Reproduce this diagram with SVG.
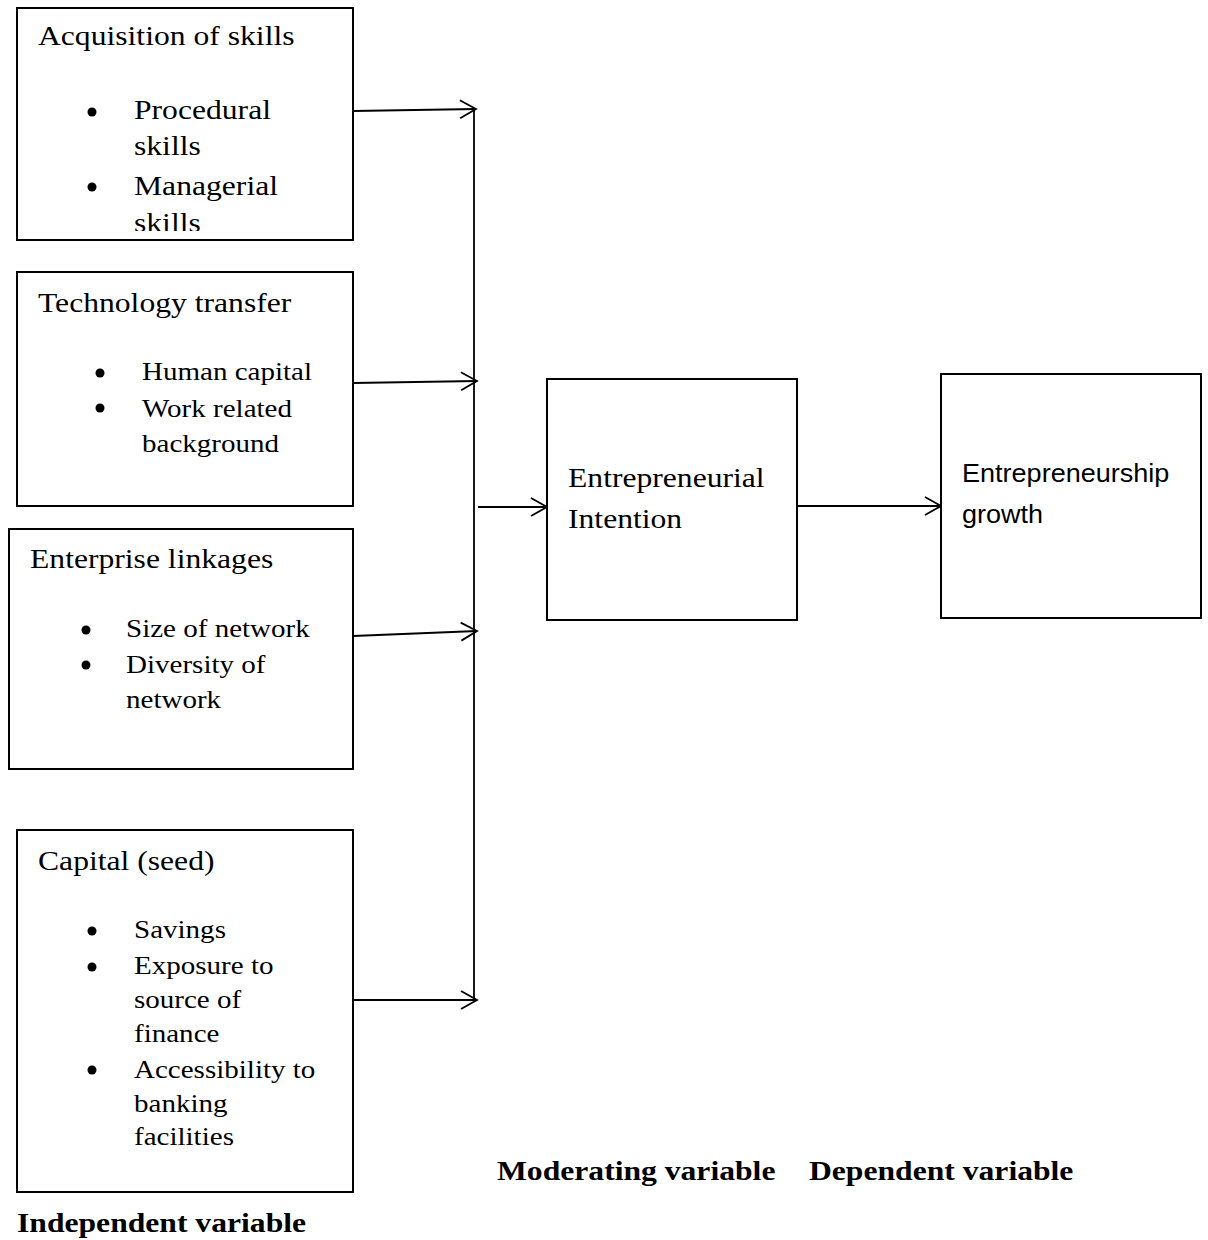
<svg xmlns="http://www.w3.org/2000/svg" width="1208" height="1240" viewBox="0 0 1208 1240">
<style>
.box{fill:#fff;stroke:#000;stroke-width:2}
.t{font-family:"Liberation Serif","Times New Roman",serif;font-size:28px;fill:#000}
.s{font-family:"Liberation Serif","Times New Roman",serif;font-size:25.7px;fill:#000}
.b{font-family:"Liberation Serif","Times New Roman",serif;font-size:28px;font-weight:bold;fill:#000}
.sans{font-family:"Liberation Sans",Arial,sans-serif;font-size:26px;fill:#000}
.ln{fill:none;stroke:#000;stroke-width:1.8}
.dot{fill:#000}
</style>
<defs>
<marker id="ah" markerUnits="userSpaceOnUse" markerWidth="20" markerHeight="22" refX="17" refY="10" orient="auto" viewBox="0 0 20 22">
<path d="M1,1 L17,10 L1,19" fill="none" stroke="#000" stroke-width="1.8"/>
</marker>
<clipPath id="c1"><rect x="17" y="8" width="336" height="223"/></clipPath>
</defs>
<rect width="1208" height="1240" fill="#fff"/>
<g id="connectors">
<line class="ln" x1="474" y1="108" x2="474" y2="1001"/>
<line class="ln" x1="353" y1="111" x2="476" y2="109" marker-end="url(#ah)"/>
<line class="ln" x1="353" y1="383" x2="477" y2="381" marker-end="url(#ah)"/>
<line class="ln" x1="353" y1="636" x2="477" y2="631" marker-end="url(#ah)"/>
<line class="ln" x1="353" y1="1000" x2="477" y2="1000" marker-end="url(#ah)"/>
<line class="ln" x1="478" y1="507" x2="547" y2="507" marker-end="url(#ah)"/>
<line class="ln" x1="797" y1="506" x2="941" y2="506" marker-end="url(#ah)"/>
</g>
<g id="acquisition">
<rect class="box" x="17" y="8" width="336" height="232"/>
<text class="t" transform="translate(38,45) scale(1.13,1)">Acquisition of skills</text>
<circle class="dot" cx="92" cy="112" r="4.5"/>
<circle class="dot" cx="92" cy="187" r="4.5"/>
<text class="t" transform="translate(134,119) scale(1.13,1)">Procedural</text>
<text class="t" transform="translate(134,155) scale(1.13,1)">skills</text>
<text class="t" transform="translate(134,195) scale(1.13,1)">Managerial</text>
<g clip-path="url(#c1)"><text class="t" transform="translate(134,232) scale(1.13,1)">skills</text></g>
</g>
<g id="technology">
<rect class="box" x="17" y="272" width="336" height="234"/>
<text class="t" transform="translate(38,312) scale(1.13,1)">Technology transfer</text>
<circle class="dot" cx="100" cy="373" r="4.5"/>
<circle class="dot" cx="100" cy="408" r="4.5"/>
<text class="s" transform="translate(142,380) scale(1.13,1)">Human capital</text>
<text class="s" transform="translate(142,417) scale(1.13,1)">Work related</text>
<text class="s" transform="translate(142,452) scale(1.13,1)">background</text>
</g>
<g id="enterprise">
<rect class="box" x="9" y="529" width="344" height="240"/>
<text class="t" transform="translate(30,568) scale(1.13,1)">Enterprise linkages</text>
<circle class="dot" cx="86" cy="630" r="4.5"/>
<circle class="dot" cx="86" cy="665" r="4.5"/>
<text class="s" transform="translate(126,637) scale(1.13,1)">Size of network</text>
<text class="s" transform="translate(126,673) scale(1.13,1)">Diversity of</text>
<text class="s" transform="translate(126,708) scale(1.13,1)">network</text>
</g>
<g id="capital">
<rect class="box" x="17" y="830" width="336" height="362"/>
<text class="t" transform="translate(38,870) scale(1.13,1)">Capital (seed)</text>
<circle class="dot" cx="92" cy="931" r="4.5"/>
<circle class="dot" cx="92" cy="967" r="4.5"/>
<circle class="dot" cx="92" cy="1070" r="4.5"/>
<text class="s" transform="translate(134,938) scale(1.13,1)">Savings</text>
<text class="s" transform="translate(134,974) scale(1.13,1)">Exposure to</text>
<text class="s" transform="translate(134,1008) scale(1.13,1)">source of</text>
<text class="s" transform="translate(134,1042) scale(1.13,1)">finance</text>
<text class="s" transform="translate(134,1078) scale(1.13,1)">Accessibility to</text>
<text class="s" transform="translate(134,1112) scale(1.13,1)">banking</text>
<text class="s" transform="translate(134,1145) scale(1.13,1)">facilities</text>
</g>
<g id="intention">
<rect class="box" x="547" y="379" width="250" height="241"/>
<text class="t" transform="translate(568,487) scale(1.13,1)">Entrepreneurial</text>
<text class="t" transform="translate(568,528) scale(1.13,1)">Intention</text>
</g>
<g id="growth">
<rect class="box" x="941" y="374" width="260" height="244"/>
<text class="sans" transform="translate(962,482) scale(1.04,1)">Entrepreneurship</text>
<text class="sans" transform="translate(962,523) scale(1.04,1)">growth</text>
</g>
<g id="labels">
<text class="b" transform="translate(17,1232) scale(1.13,1)">Independent variable</text>
<text class="b" transform="translate(497,1180) scale(1.13,1)">Moderating variable</text>
<text class="b" transform="translate(809,1180) scale(1.13,1)">Dependent variable</text>
</g>
</svg>
